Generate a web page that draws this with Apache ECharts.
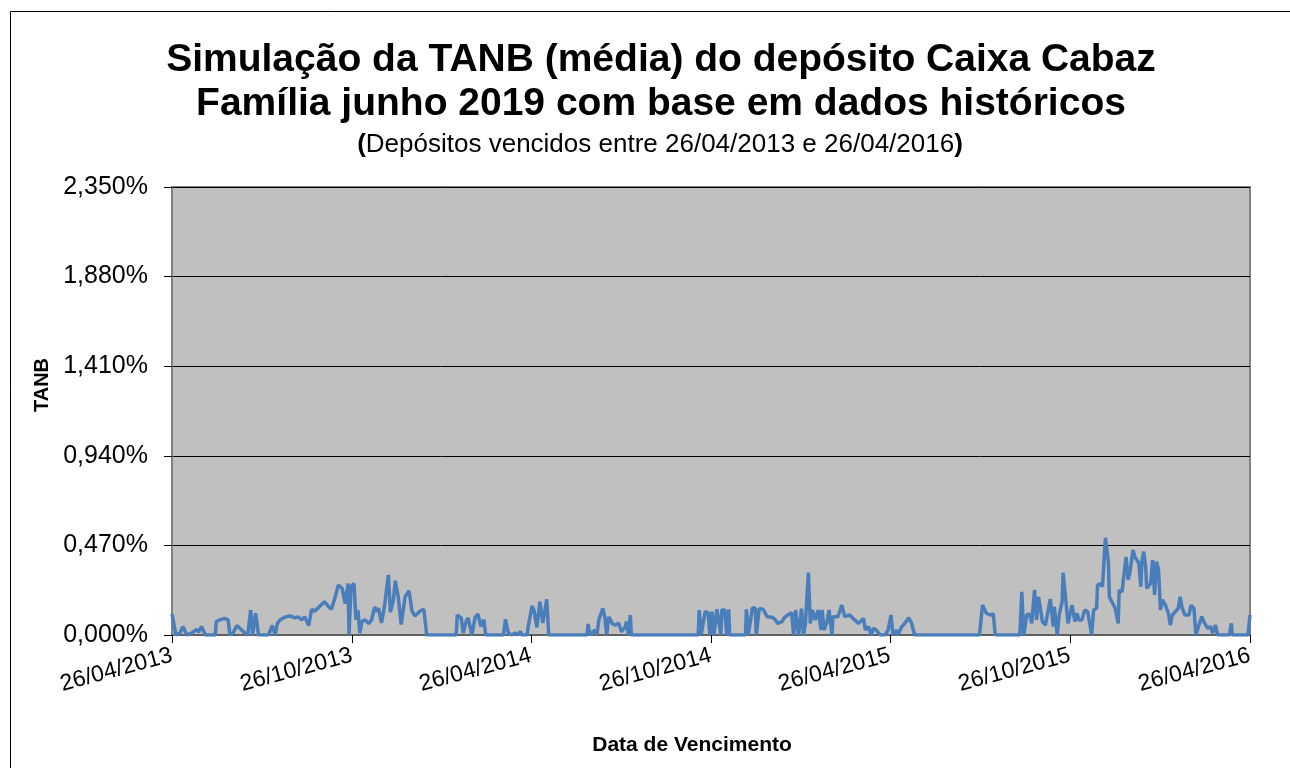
<!DOCTYPE html>
<html>
<head>
<meta charset="utf-8">
<script src="https://cdn.jsdelivr.net/npm/echarts@6/dist/echarts.min.js"></script>
<style>
html,body{margin:0;padding:0;background:#fff;}
#chart{width:1290px;height:768px;}
</style>
</head>
<body>
<div id="chart"></div>
<script>
// Start date of the axis (day 0) and the tick labels (every 6 months)
const startDate = '26/04/2013';
const xTickLabels = ['26/04/2013','26/10/2013','26/04/2014','26/10/2014','26/04/2015','26/10/2015','26/04/2016'];
const yTickValues = [0, 0.47, 0.94, 1.41, 1.88, 2.35];

// Days since 26/04/2013 (maturity date) and TANB (%)
const dayOffsets = [
0,4,8,11,15,20,25,27,30,34,44,45,49,53,57,59,62,66,69,74,77,80,82,85,88,98,102,105,107,110,
115,120,125,128,132,135,139,142,145,150,155,159,162,166,169,173,176,179,180,182,185,187,189,191,193,196,200,203,206,208,
210,213,216,220,222,225,227,230,233,237,241,244,247,252,256,259,289,290,294,296,299,301,305,308,311,314,317,319,337,339,
342,345,349,352,354,356,361,362,366,368,371,374,377,381,383,422,423,425,430,432,434,438,440,442,444,448,451,454,457,461,
462,464,466,467,535,536,538,542,545,547,549,551,554,556,558,559,562,564,566,567,583,584,586,590,593,594,597,601,603,605,
610,613,616,620,623,626,630,632,634,637,640,642,644,647,649,651,654,657,660,661,663,666,668,671,672,677,681,684,689,694,
698,703,705,708,711,713,716,720,725,728,731,733,737,738,742,745,749,752,755,821,824,828,832,833,835,837,862,864,866,869,
872,874,877,879,881,883,885,888,890,893,896,897,900,902,905,906,911,913,915,918,920,922,925,928,931,935,937,940,941,944,
946,949,952,953,955,959,962,963,966,967,970,972,974,977,979,983,985,986,988,990,991,995,997,999,1001,1003,1005,1007,1010,1013,
1015,1017,1020,1023,1025,1027,1030,1034,1036,1039,1041,1044,1047,1049,1051,1053,1056,1058,1060,1061,1063,1075,1077,1078,1094,1096
];
const tanbValues = [
0.110,0,0.010,0.044,0,0.010,0.030,0.015,0.044,0,0,0.070,0.080,0.087,0.080,0,0.010,0.050,0.035,0.010,0,0.131,0,0.114,0,0,0.050,0,0.060,0.080,
0.095,0.100,0.090,0.095,0.080,0.095,0.050,0.135,0.125,0.150,0.175,0.150,0.135,0.200,0.262,0.245,0.165,0.270,0,0.255,0.270,0.080,0.130,0.010,0.070,0.080,0.060,0.080,0.147,0.125,
0.140,0.063,0.150,0.315,0.120,0.180,0.285,0.200,0.055,0.200,0.232,0.125,0.100,0.125,0.135,0,0,0.105,0.090,0.010,0.070,0.090,0,0.090,0.110,0.045,0.080,0,0,0.082,
0.010,0,0.010,0,0.020,0,0,0.040,0.152,0.130,0.040,0.175,0.063,0.187,0,0,0.058,0,0.026,0,0.080,0.140,0.095,0,0.095,0.058,0.052,0.063,0.017,0.044,
0.070,0,0.105,0,0,0.131,0,0.122,0.117,0,0.122,0,0.135,0.140,0,0.131,0.131,0,0.135,0,0,0.135,0,0.141,0.141,0,0.138,0.135,0.135,0.096,
0.093,0.082,0.061,0.070,0.093,0.105,0.117,0,0.131,0,0.138,0,0.061,0.327,0.061,0.131,0.079,0.131,0.026,0.131,0.026,0.070,0.131,0,0.096,0.096,0.157,0.096,0.105,0.079,
0.061,0.087,0.026,0.044,0,0.035,0.026,0,0,0.026,0.105,0,0.026,0,0.044,0.061,0.090,0.061,0,0,0.157,0.114,0.105,0.096,0.110,0,0,0.227,0,0.105,
0.110,0.061,0.236,0.079,0.200,0.192,0.070,0.052,0.052,0.189,0.044,0.148,0,0.105,0.175,0.327,0.061,0.061,0.157,0.070,0.114,0.079,0.079,0.131,0.122,0,0.131,0.140,0.262,0.270,
0.253,0.510,0.385,0.200,0.192,0.140,0.061,0.236,0.227,0.280,0.410,0.290,0.330,0.446,0.410,0.376,0.253,0.385,0.437,0.350,0.245,0.271,0.393,0.210,0.385,0.341,0.131,0.184,0.157,0.114,
0.052,0.105,0.122,0.140,0.200,0.140,0.105,0.105,0.157,0.140,0,0.052,0.096,0.070,0.079,0.035,0.044,0.010,0,0.052,0,0,0.061,0,0,0.105
];

function toUTC(s){const p=s.split('/');return Date.UTC(+p[2],+p[1]-1,+p[0]);}
const t0 = toUTC(startDate);
const xTickDays = xTickLabels.map(s => Math.round((toUTC(s)-t0)/86400000));
const xMax = xTickDays[xTickDays.length-1];
const seriesData = dayOffsets.map((d,i)=>[d, tanbValues[i]]);

const FONT = '"Liberation Sans", Arial, sans-serif';
const chart = echarts.init(document.getElementById('chart'), null, {renderer:'canvas'});
chart.setOption({
  animation:false,
  backgroundColor:'#ffffff',
  title:[
    {text:'Simulação da TANB (média) do depósito Caixa Cabaz\nFamília junho 2019 com base em dados históricos',
     left:656, top:33, textAlign:'center',
     textStyle:{fontFamily:FONT,fontSize:39,fontWeight:'bold',color:'#000',lineHeight:44}},
    {text:'{b|(}{n|Depósitos vencidos entre 26/04/2013 e 26/04/2016}{b|)}',
     left:655, top:127, textAlign:'center',
     textStyle:{fontFamily:FONT,fontSize:26,fontWeight:'normal',color:'#000',
       rich:{b:{fontFamily:FONT,fontSize:26,fontWeight:'bold',color:'#000'},
             n:{fontFamily:FONT,fontSize:26,fontWeight:'normal',color:'#000'}}}}
  ],
  graphic:[{type:'rect',shape:{x:10.5,y:11.5,width:1300,height:800},style:{fill:'none',stroke:'#000',lineWidth:1},silent:true}],
  grid:{left:172,right:40,top:187,bottom:133,show:true,backgroundColor:'#C0C0C0',borderColor:'#808080',borderWidth:2},
  xAxis:{
    type:'value',min:0,max:xMax,
    name:'Data de Vencimento',nameLocation:'middle',nameGap:100,
    nameTextStyle:{fontFamily:FONT,fontSize:21,fontWeight:'bold',color:'#000',padding:[0,38,0,0]},
    axisLine:{show:true,lineStyle:{color:'#606060',width:2}},
    axisTick:{show:true,length:8,lineStyle:{color:'#000'},customValues:xTickDays},
    axisLabel:{show:true,rotate:15,margin:20,fontFamily:FONT,fontSize:23,color:'#000',
      customValues:xTickDays,
      formatter:function(v){const i=xTickDays.indexOf(Math.round(v));return i>=0?xTickLabels[i]:'';}},
    splitLine:{show:false}
  },
  yAxis:{
    type:'value',min:0,max:2.35,interval:0.47,
    name:'TANB',nameLocation:'middle',nameGap:118,
    nameTextStyle:{fontFamily:FONT,fontSize:20,fontWeight:'bold',color:'#000',padding:[0,0,0,52]},
    axisLine:{show:true,lineStyle:{color:'#808080',width:2}},
    axisTick:{show:true,length:8,lineStyle:{color:'#000'}},
    axisLabel:{margin:24,fontFamily:FONT,fontSize:25,color:'#000',
      formatter:function(v){return v.toFixed(3).replace('.',',')+'%';}},
    splitLine:{show:true,lineStyle:{color:'#000',width:1}}
  },
  series:[{type:'line',data:seriesData,showSymbol:false,
    lineStyle:{color:'#4A7EBB',width:3.5},itemStyle:{color:'#4A7EBB'}}]
});
</script>
</body>
</html>
